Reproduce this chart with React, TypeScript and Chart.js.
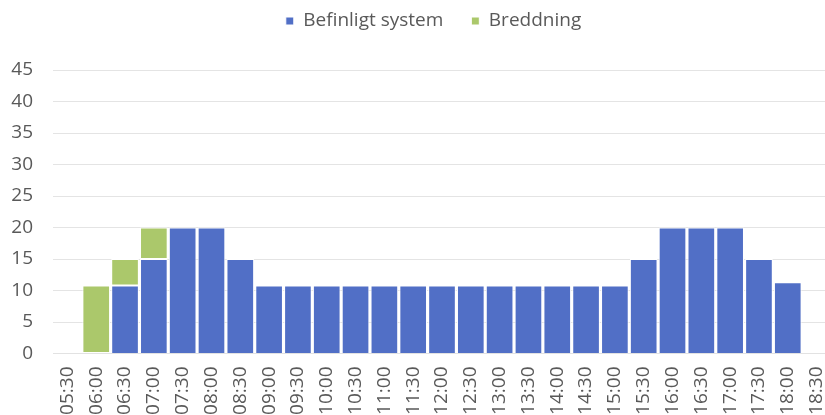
import React, { useEffect, useRef } from "react";
import { Chart, registerables } from "chart.js";

Chart.register(...registerables);

// Half-hour slots through the day
const timeSlots = [
  "05:30", "06:00", "06:30", "07:00", "07:30", "08:00", "08:30", "09:00", "09:30",
  "10:00", "10:30", "11:00", "11:30", "12:00", "12:30", "13:00", "13:30", "14:00",
  "14:30", "15:00", "15:30", "16:00", "16:30", "17:00", "17:30", "18:00", "18:30",
];

// Existing system capacity per slot
const befintligtSystem = [
  null, null, 10.8, 15, 20, 20, 15, 10.8, 10.8,
  10.8, 10.8, 10.8, 10.8, 10.8, 10.8, 10.8, 10.8, 10.8,
  10.8, 10.8, 15, 20, 20, 20, 15, 11.3, null,
];

// Extra capacity added on top during the morning ramp
const breddning = [
  null, 10.8, 4.2, 5, null, null, null, null, null,
  null, null, null, null, null, null, null, null, null,
  null, null, null, null, null, null, null, null, null,
];

const yTicks = { min: 0, max: 45, step: 5 };

const FONT = "'Open Sans', 'Noto Sans', sans-serif";
const TEXT = "#595959";
const BLUE = "#516FC6";
const GREEN = "#ABC86B";

const LEGEND_HEIGHT = 70; // band above the plot
const LEGEND_PAD = 28; // gap between legend items
const LEGEND_TEXT_Y = 21; // vertical centre of legend text
const LEGEND_SHIFT = 18;

const legendBand = {
  id: "legendBand",
  beforeLayout(chart: any) {
    const lg = chart.legend;
    if (lg && !lg.__band) {
      const fit = lg.fit;
      lg.fit = function () {
        fit.call(this);
        this.height = LEGEND_HEIGHT;
      };
      lg.__band = true;
    }
  },
  afterLayout(chart: any) {
    const lg = chart.legend;
    if (!lg) return;
    lg.left += LEGEND_SHIFT;
    lg.right += LEGEND_SHIFT;
    lg.top = LEGEND_TEXT_Y - LEGEND_PAD - 19 / 2;
  },
};

export default function App() {
  const ref = useRef<HTMLCanvasElement | null>(null);

  useEffect(() => {
    if (!ref.current) return;
    const chart = new Chart(ref.current, {
      type: "bar",
      data: {
        labels: timeSlots,
        datasets: [
          {
            label: "Befinligt system",
            data: befintligtSystem,
            backgroundColor: BLUE,
            borderColor: "#ffffff",
            borderWidth: 1,
          },
          {
            label: "Breddning",
            data: breddning,
            backgroundColor: GREEN,
            borderColor: "#ffffff",
            borderWidth: 1,
            borderSkipped: false,
          },
        ],
      },
      options: {
        responsive: false,
        animation: false,
        layout: { padding: { left: 0, right: 1, top: 0, bottom: 0 } },
        datasets: {
          bar: { categoryPercentage: 0.96, barPercentage: 1 },
        },
        plugins: {
          legend: {
            position: "top",
            labels: {
              boxWidth: 8,
              boxHeight: 8,
              padding: LEGEND_PAD,
              color: TEXT,
              font: { family: FONT, size: 19 },
            },
          },
          tooltip: { enabled: false },
        },
        scales: {
          x: {
            stacked: true,
            grid: { display: false, drawTicks: false },
            border: { display: true, color: "#e2e2e2" },
            ticks: {
              autoSkip: false,
              minRotation: 90,
              maxRotation: 90,
              padding: 13,
              color: TEXT,
              font: { family: FONT, size: 19 },
            },
            afterFit(scale: any) {
              scale.height = 61.5;
              scale.paddingLeft = 0;
              scale.paddingRight = 0;
            },
          },
          y: {
            stacked: true,
            min: yTicks.min,
            max: yTicks.max,
            ticks: {
              stepSize: yTicks.step,
              padding: 20,
              color: TEXT,
              font: { family: FONT, size: 19 },
            },
            grid: { color: "#e4e4e4", drawTicks: false },
            border: { display: false },
            afterFit(scale: any) {
              scale.width = 53;
            },
          },
        },
      },
      plugins: [legendBand],
    });
    return () => chart.destroy();
  }, []);

  return (
    <div
      style={{
        position: "absolute",
        left: 0,
        top: 0,
        width: 825,
        height: 415,
        overflow: "hidden",
        background: "#ffffff",
      }}
    >
      <canvas ref={ref} width={832} height={415} style={{ display: "block" }} />
    </div>
  );
}
